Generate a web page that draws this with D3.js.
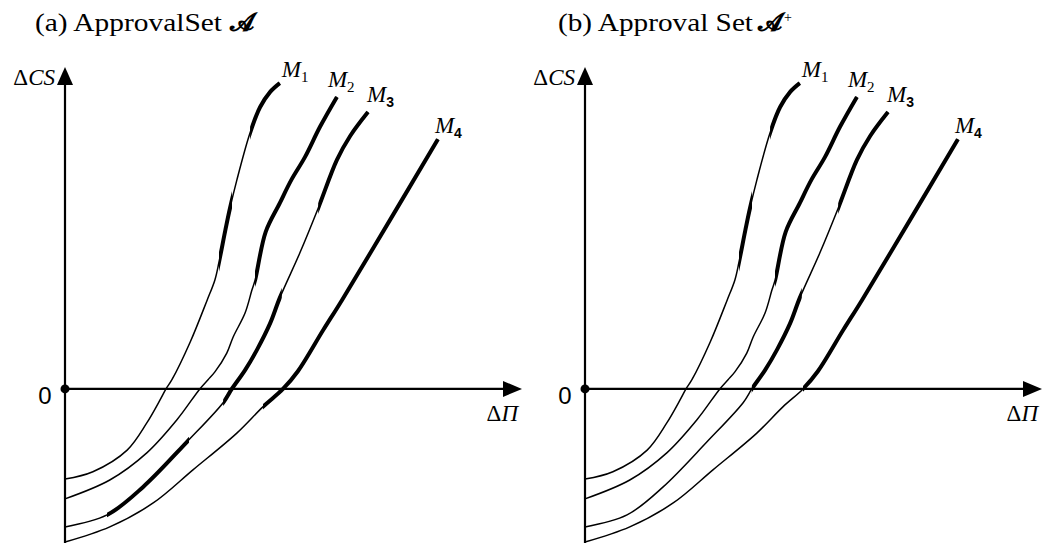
<!DOCTYPE html>
<html>
<head>
<meta charset="utf-8">
<script src="https://cdn.jsdelivr.net/npm/d3@7"></script>
<style>
  body { margin: 0; background: #fff; }
  svg { display: block; }
</style>
</head>
<body>
<div id="chart"></div>
<script>
// schematic units: ΔΠ on x, ΔCS on y (no ticks in the original)
var m1X = [0, 6.1, 13.6, 17.9, 20.8, 22.1, 23.4, 27.4, 31.1, 32.8, 33.7, 35.1, 36.1, 37.6, 40.5, 42.7, 44.9, 47.0];
var m1Y = [-19.6, -18.0, -13.3, -7.4, -2.4, 0, 2.0, 10.2, 19.3, 23.7, 27.6, 34.6, 39.3, 45.4, 55.7, 61.3, 64.6, 66.5];

var m2X = [0, 9.8, 17.9, 24.5, 29.5, 31.3, 32.8, 35.4, 36.8, 39.4, 40.9, 41.6, 43.9, 47.0, 49.5, 52.5, 55.8, 59.5];
var m2Y = [-23.9, -19.8, -13.9, -6.7, 0, 2.0, 3.7, 7.8, 11.3, 16.5, 21.5, 23.7, 34.1, 40.4, 45.4, 50.4, 57.0, 63.5];

var m3X = [0, 9.2, 17.1, 26.7, 34.6, 36.5, 39.4, 42.0, 44.9, 47.0, 51.4, 55.4, 59.5, 62.4, 66.3];
var m3Y = [-30.0, -27.4, -21.3, -11.5, -3.0, 0, 4.1, 8.5, 14.3, 19.8, 29.6, 39.3, 49.8, 55.0, 60.2];

var m4X = [0, 9.8, 19.3, 28.0, 37.6, 43.3, 47.7, 51.0, 56.5, 60.6, 71.1, 81.6];
var m4Y = [-33.3, -30.0, -24.8, -17.6, -9.6, -3.9, 0, 3.9, 12.8, 19.3, 36.7, 54.3];

var curveSubs = ["1", "2", "3", "4"];

// ΔΠ ranges drawn with the heavy stroke, per panel and curve
var thickA = [[[33.7, 36.1], [40.5, 47.0]], [[41.6, 59.5]], [[9.2, 26.7], [34.6, 47.0], [55.4, 66.3]], [[43.3, 81.6]]];
var thickB = [[[33.7, 36.1], [40.5, 47.0]], [[41.6, 59.5]], [[36.5, 47.0], [55.4, 66.3]], [[47.7, 81.6]]];

var panelTitles = ["(a) ApprovalSet", "(b) Approval Set"];
var panelSup = ["", "+"];

var W = 1049, H = 543;
var serif = "'Liberation Serif', 'Times New Roman', serif";
var sans = "'Liberation Sans', Arial, sans-serif";

var svg = d3.select("#chart").append("svg")
    .attr("width", W)
    .attr("height", H);
svg.append("rect").attr("width", W).attr("height", H).attr("fill", "#fff");

var xScale = d3.scaleLinear().domain([0, 100]).range([65, 522]);
var yScale = d3.scaleLinear().domain([-33.5, 70]).range([543, 67]);

var curves = [
    d3.zip(m1X, m1Y),
    d3.zip(m2X, m2Y),
    d3.zip(m3X, m3Y),
    d3.zip(m4X, m4Y)
];

var line = d3.line()
    .x(function (d) { return xScale(d[0]); })
    .y(function (d) { return yScale(d[1]); })
    .curve(d3.curveCatmullRom.alpha(0.5));

// label offsets from curve end (px)
var labelOff = [[2, -6], [-9, -10], [-1, -10], [-3, -6]];

function drawPanel(p, offsetX, thick) {
    var g = svg.append("g").attr("transform", "translate(" + offsetX + ",0)");

    // title
    g.append("text")
        .attr("x", 35 + (p ? 3 : 0))
        .attr("y", 31)
        .attr("font-family", serif)
        .attr("font-size", "26px")
        .attr("textLength", p ? 195 : 187)
        .attr("lengthAdjust", "spacingAndGlyphs")
        .text(panelTitles[p]);
    g.append("text")
        .attr("x", p ? 238 : 230)
        .attr("y", 31)
        .attr("font-family", serif)
        .attr("font-size", "25px")
        .attr("font-weight", "bold")
        .text("\uD835\uDCD0");
    if (panelSup[p]) {
        g.append("text")
            .attr("x", 264)
            .attr("y", 22)
            .attr("font-family", serif)
            .attr("font-size", "14px")
            .text(panelSup[p]);
    }

    // axes
    var x0 = xScale(0), y0 = yScale(0);
    g.append("line")
        .attr("x1", x0).attr("x2", x0)
        .attr("y1", yScale(-33.5)).attr("y2", yScale(70) + 12)
        .attr("stroke", "#000").attr("stroke-width", 2.2);
    g.append("path")
        .attr("d", "M" + (x0 - 8) + "," + (yScale(70) + 18) + "L" + x0 + "," + yScale(70) +
            "L" + (x0 + 8) + "," + (yScale(70) + 18) + "Z")
        .attr("fill", "#000");
    g.append("line")
        .attr("x1", x0).attr("x2", xScale(100) - 12)
        .attr("y1", y0).attr("y2", y0)
        .attr("stroke", "#000").attr("stroke-width", 2.2);
    g.append("path")
        .attr("d", "M" + (xScale(100) - 19) + "," + (y0 - 8) + "L" + xScale(100) + "," + y0 +
            "L" + (xScale(100) - 19) + "," + (y0 + 8) + "Z")
        .attr("fill", "#000");
    g.append("circle")
        .attr("cx", x0).attr("cy", y0).attr("r", 4.5)
        .attr("fill", "#000");

    // axis labels
    g.append("text")
        .attr("x", x0 - 10).attr("y", yScale(70) + 18)
        .attr("text-anchor", "end")
        .attr("font-family", serif)
        .attr("font-size", "23px")
        .html("\u0394<tspan font-style='italic'>CS</tspan>");
    g.append("text")
        .attr("x", x0 - 20).attr("y", y0 + 15)
        .attr("text-anchor", "middle")
        .attr("font-family", sans)
        .attr("font-size", "24px")
        .text("0");
    g.append("text")
        .attr("x", xScale(100) - 4).attr("y", y0 + 32)
        .attr("text-anchor", "end")
        .attr("font-family", serif)
        .attr("font-size", "23px")
        .html("\u0394<tspan font-style='italic'>\u03A0</tspan>");

    // curves
    var defs = g.append("defs");
    curves.forEach(function (c, i) {
        g.append("path")
            .datum(c)
            .attr("d", line)
            .attr("fill", "none")
            .attr("stroke", "#000")
            .attr("stroke-width", 1.5);

        thick[i].forEach(function (r, k) {
            var id = "clip-" + p + "-" + i + "-" + k;
            defs.append("clipPath").attr("id", id)
                .append("rect")
                .attr("x", xScale(r[0]))
                .attr("y", 0)
                .attr("width", xScale(r[1]) - xScale(r[0]) + 2)
                .attr("height", H);
            g.append("path")
                .datum(c)
                .attr("d", line)
                .attr("fill", "none")
                .attr("stroke", "#000")
                .attr("stroke-width", 4)
                .attr("clip-path", "url(#" + id + ")");
        });

        var end = c[c.length - 1];
        var lx = xScale(end[0]) + labelOff[i][0];
        var ly = yScale(end[1]) + labelOff[i][1];
        var t = g.append("text")
            .attr("x", lx).attr("y", ly)
            .attr("font-family", serif)
            .attr("font-size", "23px");
        t.append("tspan").attr("font-style", "italic").text("M");
        var sub = t.append("tspan").attr("dy", 5).text(curveSubs[i]);
        if (i < 2) {
            sub.attr("font-size", "15px");
        } else {
            sub.attr("font-size", "14px")
                .attr("font-family", sans)
                .attr("font-weight", "bold");
        }
    });
}

drawPanel(0, 0, thickA);
drawPanel(1, 520, thickB);
</script>
</body>
</html>
